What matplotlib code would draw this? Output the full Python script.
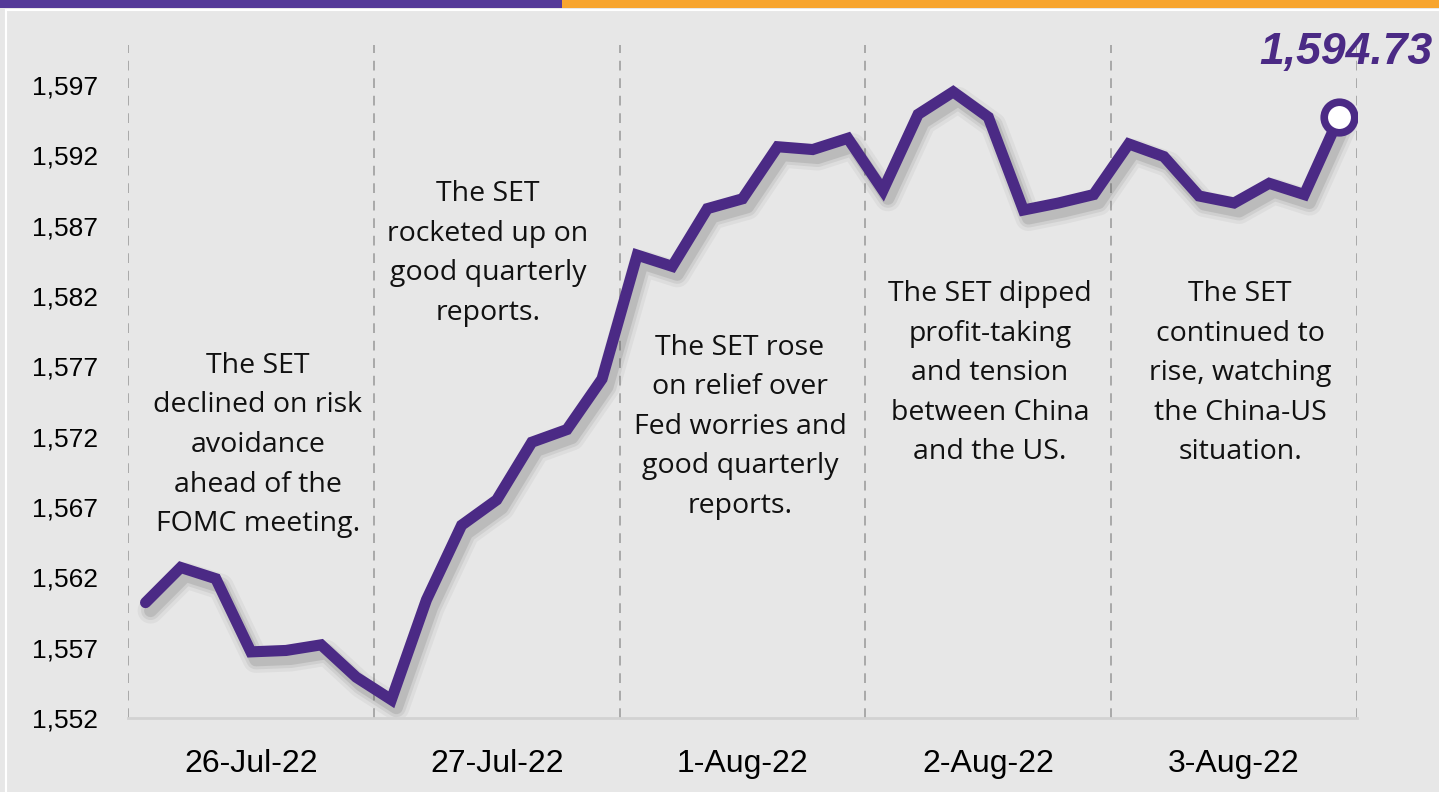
import numpy as np
import matplotlib.pyplot as plt
import matplotlib.transforms as mtransforms
from matplotlib.patches import Rectangle

# SET index, intraday points over five sessions
set_index = [1560.2, 1562.7, 1561.9, 1556.7, 1556.8, 1557.2, 1554.9,
             1553.3, 1560.4, 1565.7, 1567.5, 1571.6, 1572.5, 1576.1,
             1584.9, 1584.1, 1588.2, 1588.9, 1592.6, 1592.4, 1593.2,
             1589.5, 1594.9, 1596.5, 1594.7, 1588.1, 1588.6, 1589.2,
             1592.8, 1591.9, 1589.1, 1588.6, 1590.0, 1589.2, 1594.73]
days = ["26-Jul-22", "27-Jul-22", "1-Aug-22", "2-Aug-22", "3-Aug-22"]
points_per_day = 7
y_ticks = [1552, 1557, 1562, 1567, 1572, 1577, 1582, 1587, 1592, 1597]
notes = ["The SET\ndeclined on risk\navoidance\nahead of the\nFOMC meeting.",
         "The SET\nrocketed up on\ngood quarterly\nreports.",
         "The SET rose\non relief over\nFed worries and\ngood quarterly\nreports.",
         "The SET dipped\nprofit-taking\nand tension\nbetween China\nand the US.",
         "The SET\ncontinued to\nrise, watching\nthe China-US\nsituation."]
note_x = [3.7, 10.25, 17.43, 24.55, 31.67]
note_y = [1571.4, 1585.0, 1572.7, 1576.5, 1576.5]

purple = "#4b2a85"
bg = "#e7e7e7"
tick_font = "Liberation Sans"

fig = plt.figure(figsize=(14.39, 7.92), dpi=100, facecolor=bg)

# top banner + white frame line
fig.patches.append(Rectangle((0, 1 - 8 / 792), 562 / 1439, 8 / 792, transform=fig.transFigure,
                             facecolor="#553a98", edgecolor="none", zorder=2))
fig.patches.append(Rectangle((560 / 1439, 1 - 8 / 792), 1, 8 / 792, transform=fig.transFigure,
                             facecolor="#f7a52f", edgecolor="none", zorder=1))
fig.lines.append(plt.Line2D([6 / 1439, 1], [1 - 10 / 792, 1 - 10 / 792], transform=fig.transFigure,
                            color="white", lw=1.5))
fig.lines.append(plt.Line2D([6 / 1439, 6 / 1439], [0, 1 - 10 / 792], transform=fig.transFigure,
                            color="white", lw=1.5))

ax = fig.add_axes([128 / 1439, 74 / 792, 1229 / 1439, 673 / 792])
ax.patch.set_alpha(0)

n = len(set_index)
x = np.arange(n) + 0.5
ax.set_xlim(0, n)
ax.set_ylim(1552, 1599.83)

# section separators
for b in range(0, n + 1, points_per_day):
    ax.axvline(b, color="#a9a9a9", lw=1.4, ls=(0, (5, 4)), zorder=1)

# soft shadow
for w, a in [(26, 0.06), (19, 0.09), (13, 0.14)]:
    tr = mtransforms.offset_copy(ax.transData, fig=fig, x=5, y=-8, units="dots")
    ax.plot(x, set_index, color="#444444", lw=w * 0.72, alpha=a, transform=tr,
            solid_joinstyle="round", solid_capstyle="round", zorder=2)

ax.plot(x, set_index, color=purple, lw=8, solid_joinstyle="miter",
        solid_capstyle="round", zorder=3)
ax.plot(x[-1], set_index[-1], "o", ms=22, mfc="white", mec=purple, mew=5.5, zorder=4)

ax.text(34.68, 1599.3, f"{set_index[-1]:,.2f}", color=purple, fontsize=32,
        fontweight="bold", fontstyle="italic", family=tick_font, ha="center", va="center",
        clip_on=False, zorder=5)

for t, tx, ty in zip(notes, note_x, note_y):
    ax.text(tx, ty, t, ha="center", va="center", fontsize=20.5, family="Open Sans",
            linespacing=1.55, color="#111111", zorder=5)

ax.set_yticks(y_ticks)
ax.set_yticklabels([f"{v:,}" for v in y_ticks], family=tick_font, fontsize=19)
ax.set_xticks([points_per_day * i + points_per_day / 2 for i in range(len(days))])
ax.set_xticklabels(days, family=tick_font, fontsize=23)
ax.tick_params(axis="y", length=0, pad=21.6)
ax.tick_params(axis="x", length=0, pad=22)

for s in ["top", "right", "left"]:
    ax.spines[s].set_visible(False)
ax.spines["bottom"].set_color("#d2d2d2")
ax.spines["bottom"].set_linewidth(2)

fig.savefig("out.png", dpi=100, facecolor=bg)
